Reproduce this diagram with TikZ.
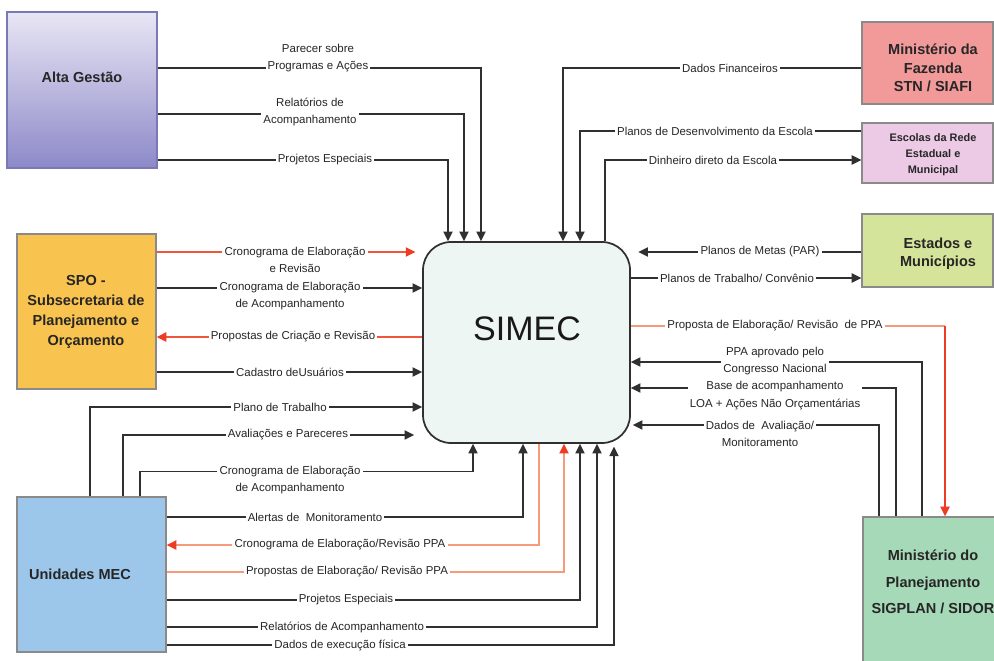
\documentclass[tikz,border=0pt]{standalone}
\usepackage{fontspec}
\setmainfont{Liberation Sans}
\usetikzlibrary{arrows.meta,fit,calc}
\definecolor{lineC}{HTML}{303030}
\definecolor{redC}{HTML}{EE3B24}
\definecolor{redL}{HTML}{F0563C}
\definecolor{orL}{HTML}{F79A7C}
\definecolor{altaTop}{HTML}{E8E6F4}
\definecolor{altaBot}{HTML}{8D89C9}
\definecolor{altaB}{HTML}{7B78B8}
\definecolor{spoF}{HTML}{F9C34F}
\definecolor{mecF}{HTML}{9DC7EA}
\definecolor{fazF}{HTML}{F2999A}
\definecolor{escF}{HTML}{ECC9E4}
\definecolor{estF}{HTML}{D4E49A}
\definecolor{planF}{HTML}{A6D9B8}
\definecolor{simecF}{HTML}{EEF6F4}
\definecolor{boxB}{HTML}{8A8A8A}
\tikzset{
  ebox/.style={draw=boxB, line width=1pt, inner sep=0pt},
  btext/.style={align=center, text=black!85, font={\bfseries\fontsize{10.9}{13.9}\selectfont}},
  lab/.style={fill=white, align=center, inner sep=1.6pt, text=black!85, font={\fontsize{8.6}{13.1}\selectfont}},
  conn/.style={draw=lineC, line width=1.25pt},
  arr/.style={conn, -{Triangle[length=7.2pt,width=6.8pt]}},
  rarr/.style={draw=redL, line width=1.25pt, -{Triangle[length=7.2pt,width=6.8pt,color=redC]}},
  lrarr/.style={draw=orL, line width=1.25pt, -{Triangle[length=7.2pt,width=6.8pt,color=redC]}},
  lconn/.style={draw=orL, line width=1.25pt},
}
\begin{document}
\begin{tikzpicture}[x=0.75pt,y=-0.75pt]
\useasboundingbox[fill=white] (0,0) rectangle (994,660);
% boxes
\node[draw=altaB, line width=1pt, inner sep=0pt, top color=altaTop, bottom color=altaBot, fit={(7,12)(157,168)}] (alta) {};
\node[ebox, fill=spoF, fit={(17,234)(156,389)}] (spo) {};
\node[ebox, fill=mecF, fit={(17,497)(166,652)}] (mec) {};
\node[ebox, fill=fazF, fit={(862,22)(993,104)}] (faz) {};
\node[ebox, fill=escF, fit={(862,123)(993,183)}] (esc) {};
\node[ebox, fill=estF, fit={(862,214)(993,287)}] (est) {};
\node[ebox, fill=planF, fit={(863,517)(996,664)}] (plan) {};
\node[draw=lineC, line width=1.3pt, fill=simecF, rounded corners=21pt, inner sep=0pt, fit={(423,242)(630,443)}] (simec) {};
% Alta Gestao connectors
\draw[arr] (alta.east |- 0,68) -| (simec.north -| 481,0);
\draw[arr] (alta.east |- 0,114) -| (simec.north -| 464,0);
\draw[arr] (alta.east |- 0,160) -| (simec.north -| 448,0);
% right top
\draw[arr] (faz.west |- 0,68) -| (simec.north -| 563,0);
\draw[arr] (esc.west |- 0,131) -| (simec.north -| 580,0);
\draw[arr] (simec.north -| 605,0) |- (esc.west |- 0,160);
\draw[arr, shorten >=5.5pt] (est.west |- 0,252) -- (simec.east |- 0,252);
\draw[arr] (simec.east |- 0,278) -- (est.west |- 0,278);
\coordinate (ppaC) at (945,326);
\draw[lconn] (simec.east |- ppaC) -- (ppaC);
\draw[draw=redC, line width=1.25pt, -{Triangle[length=7.2pt,width=6.8pt]}] (ppaC) -- (plan.north -| ppaC);
\draw[arr] (plan.north -| 922,0) |- (simec.east |- 0,362);
\draw[arr] (plan.north -| 896,0) |- (simec.east |- 0,388);
\draw[arr, shorten >=1.5pt] (plan.north -| 879,0) |- (simec.east |- 0,425);
% left (SPO)
\draw[rarr, shorten >=5pt] (spo.east |- 0,252) -- (simec.west |- 0,252);
\draw[arr] (spo.east |- 0,288) -- (simec.west |- 0,288);
\draw[rarr] (simec.west |- 0,337) -- (spo.east |- 0,337);
\draw[arr] (spo.east |- 0,372) -- (simec.west |- 0,372);
% Unidades MEC top
\draw[arr] (mec.north -| 90,0) |- (simec.west |- 0,407);
\draw[arr, shorten >=6pt] (mec.north -| 123,0) |- (simec.west |- 0,435);
\draw[arr] (mec.north -| 140,0) -- ++(0,-25) -| (simec.south -| 473,0);
% Unidades MEC right
\draw[arr] (mec.east |- 0,517) -| (simec.south -| 523,0);
\draw[lrarr] (simec.south -| 539,0) |- (mec.east |- 0,545);
\draw[lrarr] (mec.east |- 0,572) -| (simec.south -| 564,0);
\draw[arr] (mec.east |- 0,600) -| (simec.south -| 580,0);
\draw[arr] (mec.east |- 0,627) -| (simec.south -| 597,0);
\draw[arr, shorten >=2pt] (mec.east |- 0,645) -| (simec.south -| 614,0);
% labels
\node[lab] (l1) at (318,58) {Parecer sobre\\Programas e Ações};
\node[lab] (l2) at (310,112) {Relatórios de\\Acompanhamento};
\node[lab] (l3) at (325,160) {Projetos Especiais};
\node[lab] (l4) at (730,68) {Dados Financeiros};
\node[lab] (l5) at (715,131) {Planos de Desenvolvimento da Escola};
\node[lab] (l6) at (713,160) {Dinheiro direto da Escola};
\node[lab] (l7) at (760,252) {Planos de Metas (PAR)};
\node[lab] (l8) at (737,278) {Planos de Trabalho/ Convênio};
\node[lab] (l9) at (775,326) {Proposta de Elaboração/ Revisão\ \ de PPA};
\node[lab] (l10) at (775,361) {PPA aprovado pelo\\Congresso Nacional};
\node[lab] (l11) at (775,395.5) {Base de acompanhamento\\LOA + Ações Não Orçamentárias};
\node[lab] (l12) at (760,434) {Dados de\ \ Avaliação/\\Monitoramento};
\node[lab] (l13) at (295,260) {Cronograma de Elaboração\\e Revisão};
\node[lab] (l14) at (290,296) {Cronograma de Elaboração\\de Acompanhamento};
\node[lab] (l15) at (293,337) {Propostas de Criação e Revisão};
\node[lab] (l16) at (290,372) {Cadastro deUsuários};
\node[lab] (l17) at (280,407) {Plano de Trabalho};
\node[lab] (l18) at (288,435) {Avaliações e Pareceres};
\node[lab] (l19) at (290,480) {Cronograma de Elaboração\\de Acompanhamento};
\node[lab] (l20) at (315,517) {Alertas de\ \ Monitoramento};
\node[lab] (l21) at (340,545) {Cronograma de Elaboração/Revisão PPA};
\node[lab] (l22) at (347,572) {Propostas de Elaboração/ Revisão PPA};
\node[lab] (l23) at (346,600) {Projetos Especiais};
\node[lab] (l24) at (342,627) {Relatórios de Acompanhamento};
\node[lab] (l25) at (340,645) {Dados de execução física};
% box texts
\node[btext] (altaT) at (82,77) {Alta Gestão};
\node[btext, font={\bfseries\fontsize{10.9}{15}\selectfont}] (spoT) at (86,312) {SPO -\\Subsecretaria de\\Planejamento e\\Orçamento};
\node[btext] (mecT) at (80,574) {Unidades MEC};
\node[btext] (fazT) at (933,68) {Ministério da\\Fazenda\\STN / SIAFI};
\node[btext, font={\bfseries\fontsize{8.2}{12}\selectfont}] (escT) at (933,155) {Escolas da Rede\\Estadual e\\Municipal};
\node[btext, font={\bfseries\fontsize{10.9}{13.5}\selectfont}] (estT) at (938,254) {Estados e\\Municípios};
\node[btext, font={\bfseries\fontsize{10.9}{20}\selectfont}] (planT) at (933,582) {Ministério do\\Planejamento\\SIGPLAN / SIDOR};
\node[text=black!90, font={\fontsize{25.5}{30}\selectfont}] (simecT) at (527,329) {SIMEC};
\end{tikzpicture}
\end{document}
